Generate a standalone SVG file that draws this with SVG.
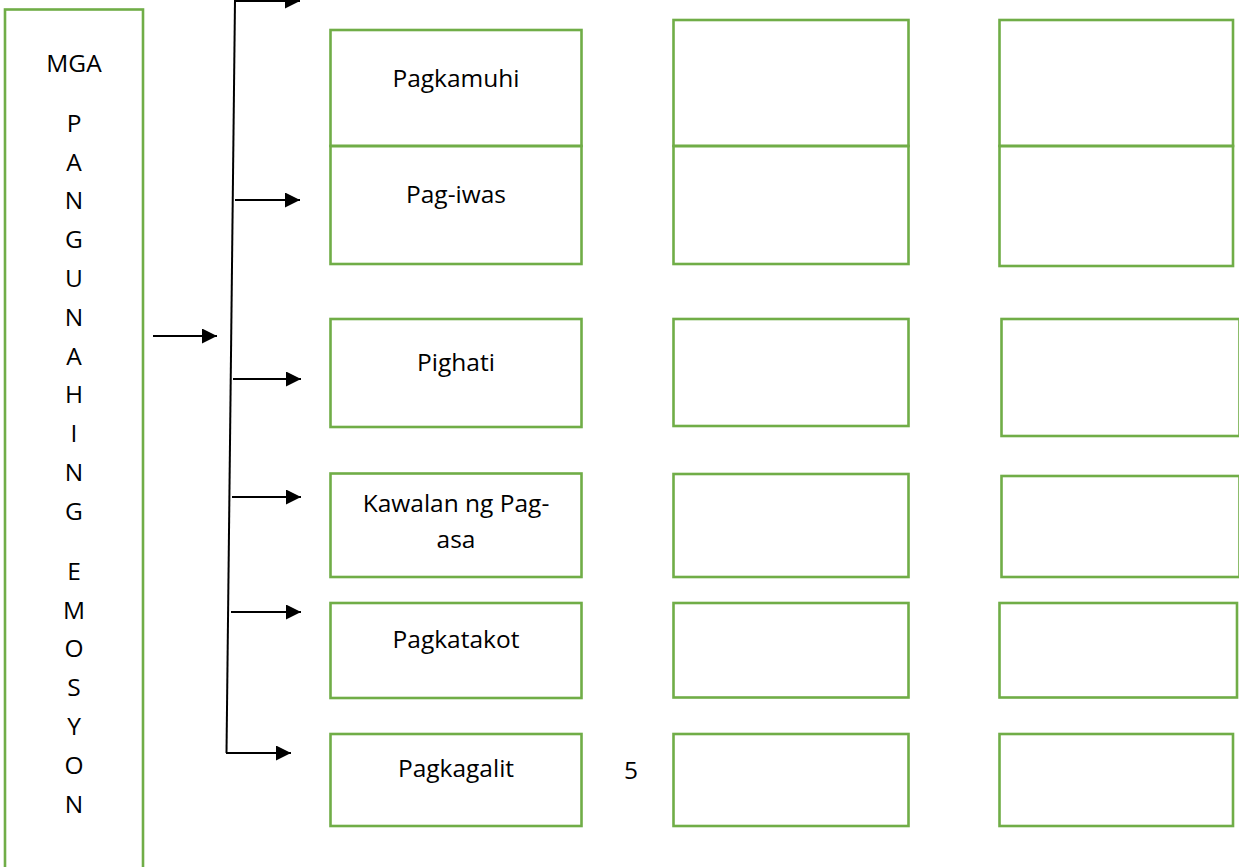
<svg xmlns="http://www.w3.org/2000/svg" width="1239" height="867" viewBox="0 0 1239 867">
<style>
.box{fill:none;stroke:#70AD47;stroke-width:2.6}
.t{font-family:"Open Sans","Noto Sans",sans-serif;font-size:24.5px;fill:#000;text-anchor:middle}
.c{stroke:#000;stroke-width:2;fill:none}
</style>
<defs>
<marker id="ah" viewBox="0 0 15 15" refX="15" refY="7.5" markerWidth="15" markerHeight="15" markerUnits="userSpaceOnUse" orient="auto">
<path d="M0,0 L15,7.5 L0,15 Z" fill="#000"/>
</marker>
</defs>
<rect width="1239" height="867" fill="#fff"/>
<g id="main">
<rect class="box" x="5" y="9.5" width="138" height="880"/>
<text class="t" x="74" y="71.7">MGA</text>
<text class="t" x="74" y="131.7">P</text>
<text class="t" x="74" y="170.5">A</text>
<text class="t" x="74" y="209.3">N</text>
<text class="t" x="74" y="248.1">G</text>
<text class="t" x="74" y="286.9">U</text>
<text class="t" x="74" y="325.7">N</text>
<text class="t" x="74" y="364.5">A</text>
<text class="t" x="74" y="403.3">H</text>
<text class="t" x="74" y="442.1">I</text>
<text class="t" x="74" y="480.9">N</text>
<text class="t" x="74" y="519.7">G</text>
<text class="t" x="74" y="579.7">E</text>
<text class="t" x="74" y="618.5">M</text>
<text class="t" x="74" y="657.3">O</text>
<text class="t" x="74" y="696.1">S</text>
<text class="t" x="74" y="734.9">Y</text>
<text class="t" x="74" y="773.7">O</text>
<text class="t" x="74" y="812.5">N</text>
</g>
<g id="connectors">
<line class="c" x1="235" y1="0" x2="226.5" y2="753"/>
<line class="c" x1="235" y1="1" x2="300" y2="1" marker-end="url(#ah)"/>
<line class="c" x1="235" y1="200" x2="300" y2="200" marker-end="url(#ah)"/>
<line class="c" x1="153" y1="336" x2="217" y2="336" marker-end="url(#ah)"/>
<line class="c" x1="233" y1="379" x2="301" y2="379" marker-end="url(#ah)"/>
<line class="c" x1="232" y1="497" x2="301" y2="497" marker-end="url(#ah)"/>
<line class="c" x1="231" y1="612" x2="301" y2="612" marker-end="url(#ah)"/>
<line class="c" x1="226" y1="753" x2="291" y2="753" marker-end="url(#ah)"/>
</g>
<g id="pagkamuhi"><rect class="box" x="330.5" y="30" width="251" height="116"/><text class="t" x="456" y="87">Pagkamuhi</text></g>
<g id="pag-iwas"><rect class="box" x="330.5" y="146" width="251" height="118"/><text class="t" x="456" y="203">Pag-iwas</text></g>
<g id="pighati"><rect class="box" x="330.5" y="319" width="251" height="108"/><text class="t" x="456" y="370.7">Pighati</text></g>
<g id="kawalan"><rect class="box" x="330.5" y="473.5" width="251" height="103.5"/><text class="t" x="456" y="511.7">Kawalan ng Pag-</text><text class="t" x="456" y="548">asa</text></g>
<g id="pagkatakot"><rect class="box" x="330.5" y="603" width="251" height="95"/><text class="t" x="456" y="648.3">Pagkatakot</text></g>
<g id="pagkagalit"><rect class="box" x="330.5" y="734" width="251" height="92"/><text class="t" x="456" y="777.3">Pagkagalit</text></g>
<text class="t" x="631" y="779">5</text>
<g id="c2r1"><rect class="box" x="673.5" y="20" width="235" height="126"/></g>
<g id="c2r2"><rect class="box" x="673.5" y="146" width="235" height="118"/></g>
<g id="c2r3"><rect class="box" x="673.5" y="319" width="235" height="107"/></g>
<g id="c2r4"><rect class="box" x="673.5" y="474" width="235" height="103"/></g>
<g id="c2r5"><rect class="box" x="673.5" y="603" width="235" height="94.5"/></g>
<g id="c2r6"><rect class="box" x="673.5" y="734" width="235" height="92"/></g>
<g id="c3r1"><rect class="box" x="999.5" y="20" width="233.5" height="126"/></g>
<g id="c3r2"><rect class="box" x="999.5" y="146" width="233.5" height="120"/></g>
<g id="c3r3"><rect class="box" x="1001.5" y="319" width="238" height="117"/></g>
<g id="c3r4"><rect class="box" x="1001.5" y="476" width="238" height="101"/></g>
<g id="c3r5"><rect class="box" x="999.5" y="603" width="237.5" height="94.5"/></g>
<g id="c3r6"><rect class="box" x="999.5" y="734" width="233.5" height="92"/></g>
</svg>
